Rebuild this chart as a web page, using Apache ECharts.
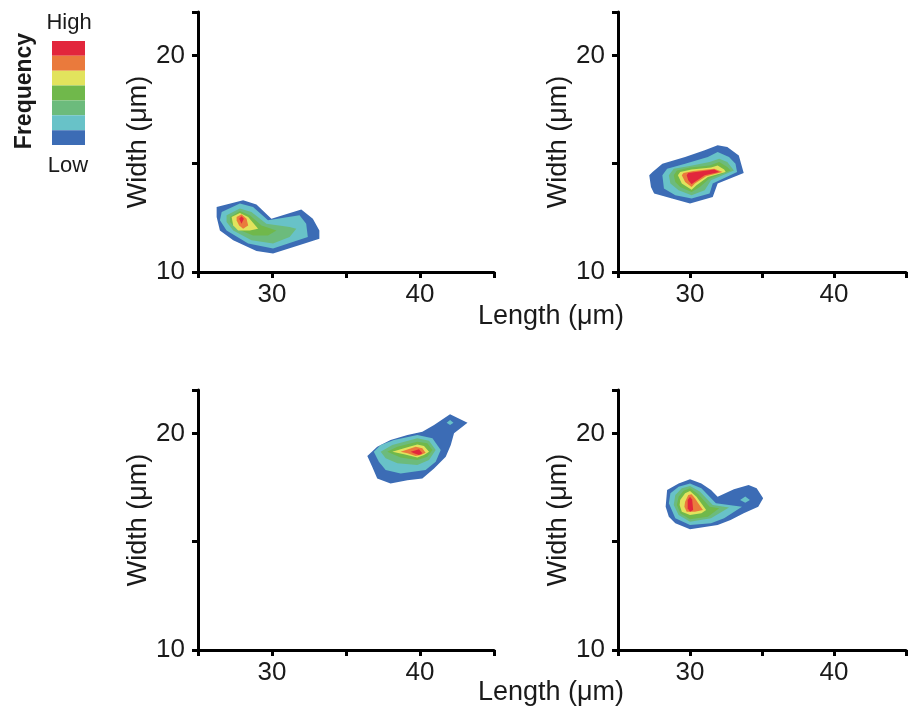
<!DOCTYPE html>
<html>
<head>
<meta charset="utf-8">
<script src="https://cdn.jsdelivr.net/npm/echarts@6/dist/echarts.min.js"></script>
<style>html,body{margin:0;padding:0;background:#fff}#c{width:909px;height:714px}</style>
</head>
<body>
<div id="c"></div>
<script>
// Frequency levels, low (1) to high (7)
const levelColors = ['#3c6cb5', '#68c2c8', '#6cbb7c', '#70b84b', '#e2e35d', '#ea7a3c', '#e2263c'];
const xTickLabels = [30, 40];
const yTickLabels = [10, 20];

// Contour polygons in data units [length, width] for each panel
const panel1Contours = [
  {level: 1, pts: [[26.26,13.0],[28.05,13.31],[28.95,13.12],[29.96,12.46],[31.98,12.88],[32.76,12.46],[33.2,11.92],[33.2,11.54],[32.2,11.31],[30.07,10.85],[28.95,10.97],[27.38,11.46],[26.48,11.92],[26.26,12.54]]},
  {level: 2, pts: [[26.6,12.77],[27.83,13.16],[28.72,13.0],[29.73,12.39],[31.86,12.62],[32.31,12.23],[32.42,11.62],[30.07,11.08],[28.39,11.31],[26.93,11.92],[26.48,12.39]]},
  {level: 3, pts: [[26.93,12.62],[27.83,12.93],[28.61,12.77],[29.62,12.23],[31.19,12.08],[31.64,12.0],[31.19,11.62],[30.07,11.31],[28.61,11.46],[27.38,11.92],[26.93,12.31]]},
  {level: 4, pts: [[27.16,12.54],[27.83,12.81],[28.5,12.62],[29.29,12.15],[30.3,11.92],[29.73,11.69],[28.72,11.69],[27.61,12.0],[27.16,12.31]]},
  {level: 5, pts: [[27.27,12.54],[27.83,12.72],[28.39,12.54],[29.06,12.0],[28.5,11.92],[27.71,11.92],[27.38,12.15]]},
  {level: 6, pts: [[27.61,12.54],[27.94,12.66],[28.28,12.46],[28.39,12.15],[28.05,12.0],[27.78,12.15],[27.61,12.38]]},
  {level: 7, pts: [[27.78,12.46],[27.94,12.57],[28.1,12.46],[27.94,12.23]]}
];
const panel2Contours = [
  {level: 1, pts: [[27.17,14.46],[27.4,14.61],[28.08,15.0],[29.66,15.31],[31.02,15.62],[31.92,15.85],[32.59,15.77],[33.39,15.38],[33.73,14.57],[31.92,14.08],[31.58,13.46],[30.0,13.16],[28.75,13.39],[27.51,13.62],[27.29,13.92]]},
  {level: 2, pts: [[28.08,14.46],[28.41,14.77],[29.66,15.0],[31.24,15.31],[31.92,15.54],[32.71,15.31],[33.16,15.0],[33.27,14.61],[31.58,14.08],[31.36,13.62],[30.11,13.39],[28.98,13.54],[28.19,13.85]]},
  {level: 3, pts: [[28.53,14.46],[28.87,14.77],[29.88,14.88],[31.36,15.08],[32.03,15.23],[32.59,15.08],[33.05,14.69],[31.46,14.23],[31.02,13.77],[30.11,13.54],[29.21,13.77],[28.64,14.08]]},
  {level: 4, pts: [[28.87,14.46],[29.09,14.69],[30.0,14.82],[31.36,14.92],[32.03,15.08],[32.59,14.85],[32.82,14.69],[31.36,14.31],[30.68,13.92],[30.11,13.69],[29.32,13.92],[28.98,14.15]]},
  {level: 5, pts: [[29.16,14.46],[29.32,14.61],[30.11,14.73],[31.46,14.82],[31.92,14.92],[32.37,14.73],[32.48,14.61],[31.24,14.38],[30.45,14.0],[30.11,13.8],[29.43,14.08]]},
  {level: 6, pts: [[29.43,14.46],[29.55,14.57],[30.22,14.66],[31.69,14.77],[32.26,14.61],[31.12,14.42],[30.34,14.08],[30.11,13.92],[29.66,14.15]]},
  {level: 7, pts: [[29.77,14.46],[29.88,14.57],[31.69,14.73],[32.03,14.61],[31.02,14.46],[30.22,14.11],[30.11,14.05],[29.88,14.23]]}
];
const panel3Contours = [
  {level: 1, pts: [[36.44,18.95],[37.11,19.38],[38.01,19.69],[39.15,19.92],[40.16,20.07],[40.95,20.38],[42.03,20.88],[43.21,20.49],[42.3,20.0],[42.08,19.46],[41.74,18.92],[40.95,18.38],[40.16,17.92],[39.15,17.84],[38.01,17.69],[37.11,17.92],[36.77,18.46]]},
  {level: 2, pts: [[41.8,20.49],[42.03,20.62],[42.26,20.49],[42.03,20.38]]},
  {level: 2, pts: [[36.88,19.15],[37.34,19.46],[38.24,19.69],[39.82,19.92],[40.84,19.77],[41.4,19.23],[41.06,18.69],[40.38,18.31],[38.69,18.15],[37.68,18.31],[37.22,18.69]]},
  {level: 3, pts: [[37.34,19.15],[38.13,19.46],[39.82,19.77],[40.61,19.66],[41.06,19.23],[40.61,18.77],[39.82,18.54],[38.47,18.62],[37.68,18.85]]},
  {level: 4, pts: [[37.79,19.15],[38.47,19.38],[39.82,19.61],[40.5,19.54],[40.84,19.23],[40.5,18.92],[39.82,18.77],[38.69,18.89]]},
  {level: 5, pts: [[38.13,19.15],[38.92,19.31],[39.82,19.49],[40.27,19.41],[40.61,19.15],[40.27,19.0],[39.82,18.89],[38.92,19.03]]},
  {level: 6, pts: [[38.69,19.15],[39.71,19.38],[40.16,19.31],[40.38,19.1],[40.05,19.0],[39.71,18.95],[39.15,19.08]]},
  {level: 7, pts: [[39.37,19.15],[39.93,19.26],[40.16,19.08],[39.93,19.0],[39.59,19.08]]}
];
const panel4Contours = [
  {level: 1, pts: [[28.41,17.38],[29.21,17.69],[30.0,17.88],[30.79,17.69],[31.46,17.38],[31.92,17.07],[33.05,17.42],[34.07,17.61],[34.63,17.46],[35.08,17.0],[34.74,16.61],[33.73,16.31],[32.82,16.0],[31.92,15.77],[30.0,15.57],[28.98,15.85],[28.53,16.15],[28.31,16.61]]},
  {level: 2, pts: [[28.64,17.23],[29.21,17.54],[30.0,17.69],[30.79,17.46],[31.8,16.77],[33.61,16.61],[32.37,16.08],[31.46,15.85],[30.0,15.77],[28.98,16.08],[28.53,16.77]]},
  {level: 2, pts: [[33.48,16.92],[33.84,17.08],[34.16,16.92],[33.84,16.8]]},
  {level: 3, pts: [[28.98,17.15],[29.43,17.46],[30.0,17.57],[30.68,17.31],[31.58,16.69],[32.71,16.58],[31.46,16.08],[30.0,15.92],[29.21,16.23],[28.87,16.69]]},
  {level: 4, pts: [[29.21,17.07],[29.55,17.35],[30.0,17.46],[30.56,17.2],[31.36,16.61],[32.03,16.54],[31.24,16.15],[30.0,16.03],[29.32,16.31],[29.09,16.69]]},
  {level: 5, pts: [[29.32,16.92],[29.66,17.23],[30.0,17.34],[30.45,17.07],[31.12,16.46],[30.79,16.31],[30.0,16.23],[29.43,16.38],[29.28,16.69]]},
  {level: 6, pts: [[29.66,16.84],[29.88,17.15],[30.11,17.19],[30.34,17.0],[30.9,16.46],[30.34,16.38],[29.77,16.38],[29.61,16.61]]},
  {level: 7, pts: [[29.84,16.92],[30.0,17.07],[30.15,16.95],[30.22,16.46],[30.0,16.38],[29.84,16.54]]}
];
const panels = [panel1Contours, panel2Contours, panel3Contours, panel4Contours];

const FONT = 'Liberation Sans, Arial, sans-serif';
const INK = '#1a1a1a';
const grids = [
  {left: 198, top: 12, width: 296, height: 260},
  {left: 618, top: 12, width: 296, height: 260},
  {left: 198, top: 390, width: 296, height: 260},
  {left: 618, top: 390, width: 296, height: 260}
];
const axisLine = {show: true, onZero: false, lineStyle: {color: '#000', width: 3}};
const axisTick = {show: true, inside: false, length: 6, lineStyle: {color: '#000', width: 3}};

const xAxes = grids.map((g, i) => ({
  type: 'value', gridIndex: i, min: 25, max: 45, interval: 5,
  axisLine, axisTick, splitLine: {show: false},
  axisLabel: {margin: 10, fontSize: 26, fontFamily: FONT, color: INK,
    formatter: v => xTickLabels.includes(v) ? String(v) : ''}
}));
const yAxes = grids.map((g, i) => ({
  type: 'value', gridIndex: i, min: 10, max: 22, interval: 5,
  axisLine, axisTick, splitLine: {show: false},
  name: 'Width (\u03bcm)', nameLocation: 'middle', nameGap: 45, nameRotate: 90,
  nameTextStyle: {fontSize: 27, fontFamily: FONT, color: INK},
  axisLabel: {margin: 13, fontSize: 26, fontFamily: FONT, color: INK,
    formatter: v => yTickLabels.includes(v) ? String(v) : ''}
}));

const series = panels.map((contours, i) => ({
  type: 'custom', coordinateSystem: 'cartesian2d', xAxisIndex: i, yAxisIndex: i,
  silent: true, animation: false, clip: true,
  data: contours.map(c => [c.pts[0][0], c.pts[0][1], c.level]),
  encode: {x: 0, y: 1},
  renderItem: (params, api) => {
    const c = contours[params.dataIndex];
    return {
      type: 'polygon',
      shape: {points: c.pts.map(p => api.coord(p))},
      style: {fill: levelColors[c.level - 1], stroke: null}
    };
  }
}));

const chart = echarts.init(document.getElementById('c'), null, {renderer: 'canvas'});
chart.setOption({
  backgroundColor: '#fff',
  animation: false,
  grid: grids,
  xAxis: xAxes,
  yAxis: yAxes,
  series,
  visualMap: {
    type: 'piecewise', seriesIndex: [0, 1, 2, 3], dimension: 2,
    orient: 'vertical', left: 52, top: 41, padding: 0,
    itemWidth: 33, itemHeight: 14.86, itemGap: 0, itemSymbol: 'rect',
    showLabel: false, selectedMode: false, hoverLink: false,
    pieces: levelColors.map((c, i) => ({value: i + 1, color: c}))
  },
  graphic: [
    {type: 'text', x: 25, y: 91, rotation: Math.PI / 2,
      style: {text: 'Frequency', font: 'bold 23px ' + FONT, fill: INK, align: 'center', verticalAlign: 'middle'}},
    {type: 'text', x: 69, y: 23,
      style: {text: 'High', font: '22px ' + FONT, fill: INK, align: 'center', verticalAlign: 'middle'}},
    {type: 'text', x: 68, y: 166,
      style: {text: 'Low', font: '22px ' + FONT, fill: INK, align: 'center', verticalAlign: 'middle'}},
    {type: 'text', x: 551, y: 317,
      style: {text: 'Length (\u03bcm)', font: '27px ' + FONT, fill: INK, align: 'center', verticalAlign: 'middle'}},
    {type: 'text', x: 551, y: 693,
      style: {text: 'Length (\u03bcm)', font: '27px ' + FONT, fill: INK, align: 'center', verticalAlign: 'middle'}}
  ]
});
</script>
</body>
</html>
